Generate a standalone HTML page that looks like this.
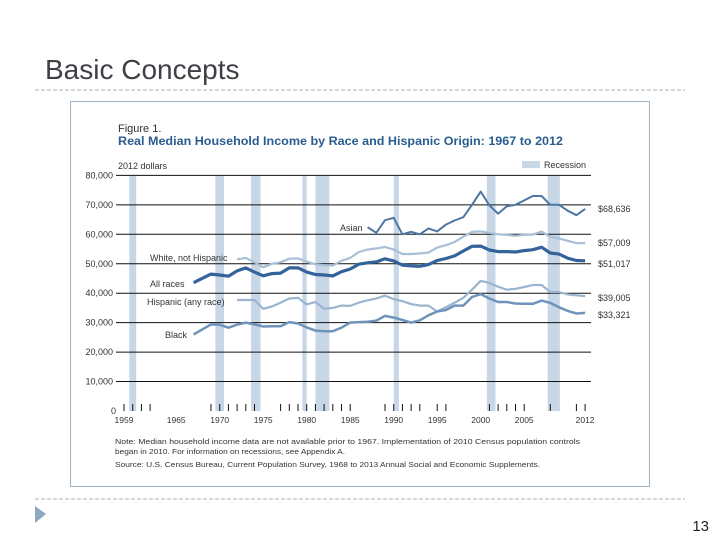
<!DOCTYPE html>
<html><head><meta charset="utf-8"><style>
html,body{margin:0;padding:0;background:#fff;}
svg{display:block;font-family:"Liberation Sans",sans-serif;}
</style></head><body>
<svg id="chart" width="720" height="540" viewBox="0 0 720 540">
<text x="45" y="79" font-size="28" fill="#3f3f46">Basic Concepts</text>
<line x1="35" y1="90" x2="685" y2="90" stroke="#b0b0b0" stroke-dasharray="4,2"/>
<line x1="35" y1="499" x2="685" y2="499" stroke="#b0b0b0" stroke-dasharray="4,2"/>
<polygon points="35,506 46,514 35,523" fill="#8ea8c4"/>
<text x="709" y="531" font-size="15" text-anchor="end" fill="#222">13</text>
<rect x="70.5" y="101.5" width="579" height="385" fill="#fff" stroke="#9fb3c6"/>
<text x="118" y="132" font-size="11" fill="#333">Figure 1.</text>
<text x="118" y="145" font-size="12" font-weight="bold" fill="#2a5d8f" textLength="445" lengthAdjust="spacingAndGlyphs">Real Median Household Income by Race and Hispanic Origin: 1967 to 2012</text>
<text x="118" y="169" font-size="9" fill="#333">2012 dollars</text>
<rect x="522" y="161" width="18" height="7" fill="#c8d7e6"/>
<text x="544" y="168" font-size="9" fill="#333">Recession</text>
<g id="rec"></g><g id="grid"></g><g id="ticks"></g><g id="lines"></g>
<text x="340" y="231" font-size="9" fill="#333">Asian</text>
<text x="150" y="261" font-size="9" fill="#333">White, not Hispanic</text>
<text x="150" y="287" font-size="9" fill="#333">All races</text>
<text x="147" y="305" font-size="9" fill="#333">Hispanic (any race)</text>
<text x="165" y="338" font-size="9" fill="#333">Black</text>
<text x="598" y="212" font-size="9" fill="#333">$68,636</text>
<text x="598" y="246" font-size="9" fill="#333">$57,009</text>
<text x="598" y="267" font-size="9" fill="#333">$51,017</text>
<text x="598" y="301" font-size="9" fill="#333">$39,005</text>
<text x="598" y="318" font-size="9" fill="#333">$33,321</text>
<text x="115" y="444" font-size="7.5" fill="#333" textLength="465" lengthAdjust="spacingAndGlyphs">Note: Median household income data are not available prior to 1967. Implementation of 2010 Census population controls</text>
<text x="115" y="454" font-size="7.5" fill="#333" textLength="230" lengthAdjust="spacingAndGlyphs">began in 2010. For information on recessions, see Appendix A.</text>
<text x="115" y="467" font-size="7.5" fill="#333" textLength="425" lengthAdjust="spacingAndGlyphs">Source: U.S. Census Bureau, Current Population Survey, 1968 to 2013 Annual Social and Economic Supplements.</text>
</svg>
<script>
const yTicks=[0,10000,20000,30000,40000,50000,60000,70000,80000];
const xLabels=[1959,1965,1970,1975,1980,1985,1990,1995,2000,2005,2012];
const tickYears=[1959,1960,1961,1962,1969,1970,1971,1972,1973,1974,1977,1978,1979,1980,1981,1982,1983,1984,1985,1989,1990,1991,1992,1993,1995,1996,2001,2002,2003,2004,2005,2008,2011,2012];
const recStart=[1959.6,1969.5,1973.6,1979.5,1981.0,1990.0,2000.7,2007.7];
const recEnd=[1960.4,1970.5,1974.7,1980.0,1982.6,1990.6,2001.7,2009.1];
const allYears=[1967,1968,1969,1970,1971,1972,1973,1974,1975,1976,1977,1978,1979,1980,1981,1982,1983,1984,1985,1986,1987,1988,1989,1990,1991,1992,1993,1994,1995,1996,1997,1998,1999,2000,2001,2002,2003,2004,2005,2006,2007,2008,2009,2010,2011,2012];
const allRaces=[43558,45056,46479,46193,45770,47566,48598,47173,45905,46672,46840,48581,48614,47164,46337,46190,45889,47314,48216,49854,50334,50624,51681,50966,49538,49275,49135,49708,51087,51799,52667,54323,55940,55987,54673,54139,54122,54005,54478,54780,55627,53644,53285,51892,51100,51017];
const black=[26000,27700,29400,29300,28300,29300,30000,29400,28700,28800,28800,30200,29700,28400,27300,27100,27100,28300,30000,30200,30300,30700,32300,31700,30900,30000,30800,32500,33800,34300,35800,35800,38700,39700,38200,37000,37000,36500,36400,36400,37500,36700,35200,34000,33100,33321];
const white=[51500,52000,50500,48800,50000,50500,51700,51800,50700,49800,49500,49400,51000,52000,54000,54800,55200,55700,54800,53300,53300,53500,53800,55500,56300,57400,59200,60800,61000,60500,60000,59800,59500,59800,59900,60900,59200,58600,57800,57000,57009];
const hispanic=[37700,37700,37700,34700,35500,36800,38200,38400,36200,37000,34700,35000,35800,35700,36800,37600,38200,39200,38000,37300,36300,35800,35800,33800,35200,36800,38400,41200,44200,43500,42200,41200,41500,42100,42800,42800,40400,40400,39600,39300,39005];
const asian=[62400,60500,64800,65600,60000,60800,60000,62000,61000,63300,64700,65800,70000,74500,69800,67000,69500,70000,71500,73000,73000,70000,70000,68000,66500,68636];
const NS='http://www.w3.org/2000/svg';
function X(yr){return 124+(yr-1959)*8.7;}
function Y(v){return 411-v*0.002945;}
function mk(t,a,p){const e=document.createElementNS(NS,t);for(const k in a)e.setAttribute(k,a[k]);document.getElementById(p).appendChild(e);return e;}
recStart.forEach((s,i)=>{const r=mk('rect',{x:X(s),y:176,width:X(recEnd[i])-X(s),height:235,fill:'#c8d7e6'},'rec');

});
yTicks.forEach(v=>{if(v>0){const l=mk('line',{x1:116,x2:591,y1:Y(v),y2:Y(v),stroke:'#111','stroke-width':1},'grid');

}
const t=mk('text',{x:v===0?116:113,y:Y(v)+3,'font-size':9,'text-anchor':'end',fill:'#333'},'grid');t.textContent=v===0?'0':v.toLocaleString('en-US');

});
tickYears.forEach(yr=>{const l=mk('line',{x1:X(yr),x2:X(yr),y1:404,y2:411,stroke:'#111','stroke-width':1},'ticks');

});
xLabels.forEach(yr=>{const t=mk('text',{x:X(yr),y:423,'font-size':8.5,'text-anchor':'middle',fill:'#333'},'ticks');t.textContent=yr;

});
function series(vals,startYr,color,w,name){const pts=vals.map((v,i)=>X(startYr+i).toFixed(1)+','+Y(v).toFixed(1)).join(' ');
const p=mk('polyline',{points:pts,fill:'none',stroke:color,'stroke-width':w,'stroke-linejoin':'round'},'lines');

}
series(white,1972,'#a9bfd6',2.2,'line-white-not-hispanic');
series(hispanic,1972,'#9bb5cf',2.2,'line-hispanic');
series(black,allYears[0],'#6f94bb',2.5,'line-black');
series(asian,1987,'#4c77a3',2,'line-asian');
series(allRaces,allYears[0],'#33639a',3.2,'line-all-races');
</script>
</body></html>
